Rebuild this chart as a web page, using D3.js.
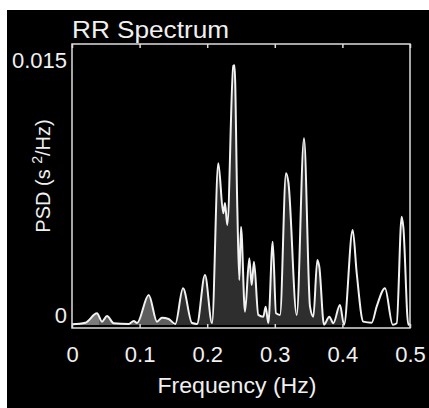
<!DOCTYPE html>
<html>
<head>
<meta charset="utf-8">
<script src="https://cdn.jsdelivr.net/npm/d3@7"></script>
<style>
  html, body { margin: 0; padding: 0; background: #fff; }
  svg { display: block; }
  text { font-family: "Liberation Sans", Arial, Helvetica, sans-serif; fill: #f0f0f0; }
</style>
</head>
<body>
<svg id="chart" width="429" height="408"></svg>
<script>
// spectrum samples (Hz, s^2/Hz)
var freqs = [0, 0.0197, 0.037, 0.0444, 0.0518, 0.0617, 0.0839, 0.0913, 0.0962, 0.1135,
    0.1257, 0.1331, 0.143, 0.1528, 0.1642, 0.1775, 0.1849, 0.1967, 0.2071, 0.2164,
    0.2238, 0.2263, 0.2297, 0.2386, 0.2404, 0.2445, 0.2475, 0.25, 0.2559, 0.2623,
    0.2658, 0.2692, 0.2756, 0.283, 0.2865, 0.2904, 0.2969, 0.3018, 0.3077, 0.3166,
    0.32, 0.3324, 0.3432, 0.3521, 0.357, 0.3629, 0.3658, 0.3728, 0.3806, 0.3865,
    0.3964, 0.4024, 0.4152, 0.4212, 0.4309, 0.4433, 0.4507, 0.463, 0.4744, 0.4803,
    0.4877, 0.4901, 0.4975, 0.5];
var psd = [0.00004, 0.00013, 0.00066, 0.00019, 0.00051, 0.0001, 0.00006, 0.00023, 0.00011, 0.0017,
    0.00019, 0.00041, 0.00034, 0.00006, 0.00208, 0.00011, 0.00006, 0.00283, 0.00011, 0.00915,
    0.00632, 0.0069, 0.00566, 0.01466, 0.0147, 0.0067, 0.00255, 0.00556, 0.00075, 0.00378,
    0.00226, 0.00358, 0.00057, 0.00047, 0.00104, 0.00011, 0.00471, 0.00066, 0.00057, 0.00859,
    0.00811, 0.00057, 0.01057, 0.00104, 0.00047, 0.00368, 0.0033, 0.00002, 0.00047, 0.0001,
    0.00113, 0.00002, 0.00538, 0.00293, 0.00019, 0.00013, 0.00104, 0.00208, 0.00002, 0.0001,
    0.00613, 0.00556, 0.00002, 0.00006];
var xTicks = [0, 0.1, 0.2, 0.3, 0.4, 0.5];
var yTicks = [0, 0.015];
// frequency bands shaded under the curve
var bandNames = ["VLF", "LF", "HF"];
var bandEdges = [[0, 0.04], [0.04, 0.15], [0.15, 0.4]];
var bandFills = ["#7a7a7a", "#5e5e5e", "#2e2e2e"];

var data = freqs.map(function(f, i) { return {f: f, p: psd[i]}; });

var svg = d3.select("#chart");
var box = {left: 72, right: 410, top: 44, bottom: 328};

svg.append("rect").attr("x", 7).attr("y", 10).attr("width", 422).attr("height", 398).attr("fill", "#000");

var x = d3.scaleLinear().domain([0, 0.5]).range([box.left, box.right]);
var y = d3.scaleLinear().domain([0, 0.015]).range([325, 60]);

var area = d3.area().x(function(d) { return x(d.f); }).y0(y(0)).y1(function(d) { return y(d.p); })
    .curve(d3.curveMonotoneX);
var line = d3.line().x(function(d) { return x(d.f); }).y(function(d) { return y(d.p); })
    .curve(d3.curveMonotoneX);

var defs = svg.append("defs");
bandNames.forEach(function(name, i) {
    defs.append("clipPath").attr("id", "clip_" + name)
        .append("rect")
        .attr("x", x(bandEdges[i][0])).attr("y", box.top)
        .attr("width", x(bandEdges[i][1]) - x(bandEdges[i][0]))
        .attr("height", box.bottom - box.top);
    svg.append("path").datum(data)
        .attr("clip-path", "url(#clip_" + name + ")")
        .attr("d", area)
        .attr("fill", bandFills[i]);
});

svg.append("path").datum(data)
    .attr("d", line)
    .attr("fill", "none")
    .attr("stroke", "#f2f2f2")
    .attr("stroke-width", 2)
    .attr("stroke-linejoin", "round");

// axes
var xAxis = svg.append("g").attr("transform", "translate(0," + box.bottom + ")")
    .call(d3.axisBottom(x).tickValues(xTicks).tickSizeInner(-4).tickSizeOuter(0).tickPadding(18)
        .tickFormat(function(d) { return String(d); }));
var topAxis = svg.append("g").attr("transform", "translate(0," + box.top + ")")
    .call(d3.axisTop(x).tickValues(xTicks).tickSizeInner(-4).tickSizeOuter(0).tickFormat(""));
var yAxis = svg.append("g").attr("transform", "translate(" + box.left + ",0)")
    .call(d3.axisLeft(y).tickValues(yTicks).tickSize(0).tickPadding(5)
        .tickFormat(function(d) { return String(d); }));

[xAxis, topAxis, yAxis].forEach(function(g) {
    g.select(".domain").remove();
    g.selectAll("line").attr("stroke", "#ddd").attr("stroke-width", 1.5);
    g.selectAll("text").attr("fill", "#f0f0f0").attr("font-size", 22)
        .attr("font-family", "Liberation Sans, Arial, sans-serif");
});
// the zero label sits a little above the baseline in the original
yAxis.selectAll(".tick text").filter(function(d) { return d === 0; }).attr("dy", "-0.12em");

svg.append("rect")
    .attr("x", box.left).attr("y", box.top)
    .attr("width", box.right - box.left).attr("height", box.bottom - box.top)
    .attr("fill", "none").attr("stroke", "#ddd").attr("stroke-width", 1.5);

svg.append("text").attr("x", box.left).attr("y", 38)
    .attr("font-size", 23).attr("textLength", 157).attr("lengthAdjust", "spacingAndGlyphs")
    .text("RR Spectrum");

svg.append("text").attr("x", (box.left + box.right) / 2 - 4).attr("y", 393)
    .attr("text-anchor", "middle").attr("font-size", 22)
    .attr("textLength", 159).attr("lengthAdjust", "spacingAndGlyphs")
    .text("Frequency (Hz)");

var yl = svg.append("text")
    .attr("transform", "translate(50,176) rotate(-90)")
    .attr("text-anchor", "middle").attr("font-size", 20);
yl.append("tspan").text("PSD (s ");
yl.append("tspan").attr("dy", -8).attr("font-size", 14).text("2");
yl.append("tspan").attr("dy", 8).text("/Hz)");
</script>
</body>
</html>
